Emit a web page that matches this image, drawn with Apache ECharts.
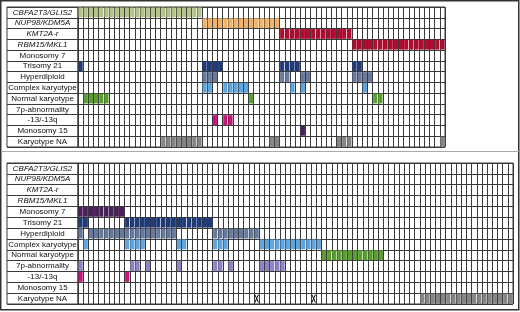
<!DOCTYPE html>
<html>
<head>
<meta charset="utf-8">
<title>Karyotype overview</title>
<script src="https://cdn.jsdelivr.net/npm/echarts@6/dist/echarts.min.js"></script>
<style>
  html, body { margin: 0; padding: 0; background: #fff; }
  #chart { width: 520px; height: 312px; }
</style>
</head>
<body>
<div id="chart"></div>
<script>
// row labels (first four are fusion genes, written in italics)
var rowNames = ['CBFA2T3/GLIS2', 'NUP98/KDM5A', 'KMT2A-r', 'RBM15/MKL1', 'Monosomy 7', 'Trisomy 21',
  'Hyperdiploid', 'Complex karyotype', 'Normal karyotype', '7p-abnormality', '-13/-13q', 'Monosomy 15', 'Karyotype NA'];
var italicRows = 4;
var rowColors = ['#b4c38a', '#f1b26a', '#b30a30', '#b30a30', '#4b1e5c', '#1f3b7a', '#67799c',
  '#5ea4df', '#5a9e30', '#8c84c6', '#c9127d', '#4b1e5c', '#858585'];

// upper panel: 71 patients, runs of filled cells [from, to] per row
var topCount = 71;
var topRuns = [
  [[0, 23]],
  [[24, 38]],
  [[39, 52]],
  [[53, 70]],
  [],
  [[0, 0], [24, 27], [39, 42], [53, 54]],
  [[24, 26], [39, 40], [43, 44], [53, 56]],
  [[24, 25], [28, 32], [41, 41], [43, 43], [55, 55]],
  [[1, 5], [33, 33], [57, 58]],
  [],
  [[26, 26], [28, 29]],
  [[43, 43]],
  [[16, 23], [37, 38], [50, 52], [70, 70]]
];

// lower panel: 84 patients
var bottomCount = 84;
var bottomRuns = [
  [],
  [],
  [],
  [],
  [[0, 8]],
  [[0, 1], [9, 25]],
  [[0, 0], [2, 18], [26, 34]],
  [[1, 1], [9, 12], [19, 20], [26, 28], [35, 46]],
  [[47, 58]],
  [[0, 0], [10, 11], [13, 13], [19, 19], [26, 27], [29, 29], [35, 39]],
  [[0, 0], [9, 9]],
  [],
  [[66, 83]]
];
var bottomCrossed = [34, 45]; // karyotype NA cells marked with an X

function makeCells(runs) {
  var out = [];
  runs.forEach(function (list, row) {
    list.forEach(function (r) {
      for (var c = r[0]; c <= r[1]; c++) {
        out.push({ value: [c, row], itemStyle: { color: rowColors[row] } });
      }
    });
  });
  return out;
}

function colNames(n) {
  var a = [];
  for (var i = 1; i <= n; i++) a.push(String(i));
  return a;
}

function renderCell(params, api) {
  var c = api.coord([api.value(0), api.value(1)]);
  var s = api.size([1, 1]);
  return {
    type: 'rect',
    shape: { x: c[0] - s[0] / 2 + 0.5, y: c[1] - s[1] / 2 + 0.5, width: s[0] - 1, height: s[1] - 1 },
    style: { fill: api.visual('color') }
  };
}

function renderCross(params, api) {
  var c = api.coord([api.value(0), api.value(1)]);
  var s = api.size([1, 1]);
  var hw = s[0] / 2 - 0.8, hh = s[1] / 2 - 1.5;
  return {
    type: 'group',
    children: [
      { type: 'line', shape: { x1: c[0] - hw, y1: c[1] - hh, x2: c[0] + hw, y2: c[1] + hh }, style: { stroke: '#000', lineWidth: 1 } },
      { type: 'line', shape: { x1: c[0] + hw, y1: c[1] - hh, x2: c[0] - hw, y2: c[1] + hh }, style: { stroke: '#000', lineWidth: 1 } }
    ]
  };
}

var lineColor = '#3a3a3a';
var font = { fontFamily: 'Liberation Sans', fontSize: 8, color: '#111' };

function labelBoxY(gi) {
  return {
    type: 'category', gridIndex: gi, data: rowNames, inverse: true,
    axisLine: { show: false }, axisTick: { show: false }, axisLabel: { show: false },
    splitLine: { show: true, interval: 0, lineStyle: { color: lineColor, width: 1 } }
  };
}
function labelBoxX(gi) {
  return { type: 'category', gridIndex: gi, data: [''], axisLine: { show: false }, axisTick: { show: false },
    axisLabel: { show: false }, splitLine: { show: false } };
}
function dataX(gi, n) {
  return {
    type: 'category', gridIndex: gi, data: colNames(n),
    axisLine: { show: false }, axisTick: { show: false }, axisLabel: { show: false },
    splitLine: { show: true, interval: 0, lineStyle: { color: lineColor, width: 1 } }
  };
}
function dataY(gi) {
  return {
    type: 'category', gridIndex: gi, data: rowNames, inverse: true,
    axisLine: { show: false }, axisTick: { show: false },
    axisLabel: {
      show: true, interval: 0, align: 'center', margin: 35.5,
      fontFamily: font.fontFamily, fontSize: font.fontSize, color: font.color,
      formatter: function (v, i) { return i < italicRows ? '{it|' + v + '}' : v; },
      rich: { it: { fontStyle: 'italic', fontFamily: font.fontFamily, fontSize: font.fontSize, color: font.color } }
    },
    splitLine: { show: true, interval: 0, lineStyle: { color: lineColor, width: 1 } }
  };
}

var gridStyle = { show: true, borderColor: lineColor, borderWidth: 1, backgroundColor: 'transparent' };

var option = {
  animation: false,
  backgroundColor: '#fff',
  grid: [
    Object.assign({ left: 7, top: 7, width: 71, height: 140 }, gridStyle),
    Object.assign({ left: 78, top: 7, width: 367, height: 140 }, gridStyle),
    Object.assign({ left: 7, top: 163, width: 71, height: 141 }, gridStyle),
    Object.assign({ left: 78, top: 163, width: 435, height: 141 }, gridStyle)
  ],
  xAxis: [labelBoxX(0), dataX(1, topCount), labelBoxX(2), dataX(3, bottomCount)],
  yAxis: [labelBoxY(0), dataY(1), labelBoxY(2), dataY(3)],
  graphic: [
    { type: 'rect', shape: { x: 0.75, y: 0.75, width: 518, height: 309 }, style: { fill: 'none', stroke: '#333', lineWidth: 1.5 }, z: 10 },
    { type: 'line', shape: { x1: 1, y1: 151.5, x2: 519, y2: 151.5 }, style: { stroke: '#aaa', lineWidth: 1 }, z: 10 }
  ],
  series: [
    { type: 'custom', xAxisIndex: 1, yAxisIndex: 1, renderItem: renderCell, data: makeCells(topRuns) },
    { type: 'custom', xAxisIndex: 3, yAxisIndex: 3, renderItem: renderCell, data: makeCells(bottomRuns) },
    {
      type: 'custom', xAxisIndex: 3, yAxisIndex: 3, renderItem: renderCross,
      data: bottomCrossed.map(function (c) { return [c, 12]; })
    }
  ]
};

var chart = echarts.init(document.getElementById('chart'));
chart.setOption(option);
</script>
</body>
</html>
